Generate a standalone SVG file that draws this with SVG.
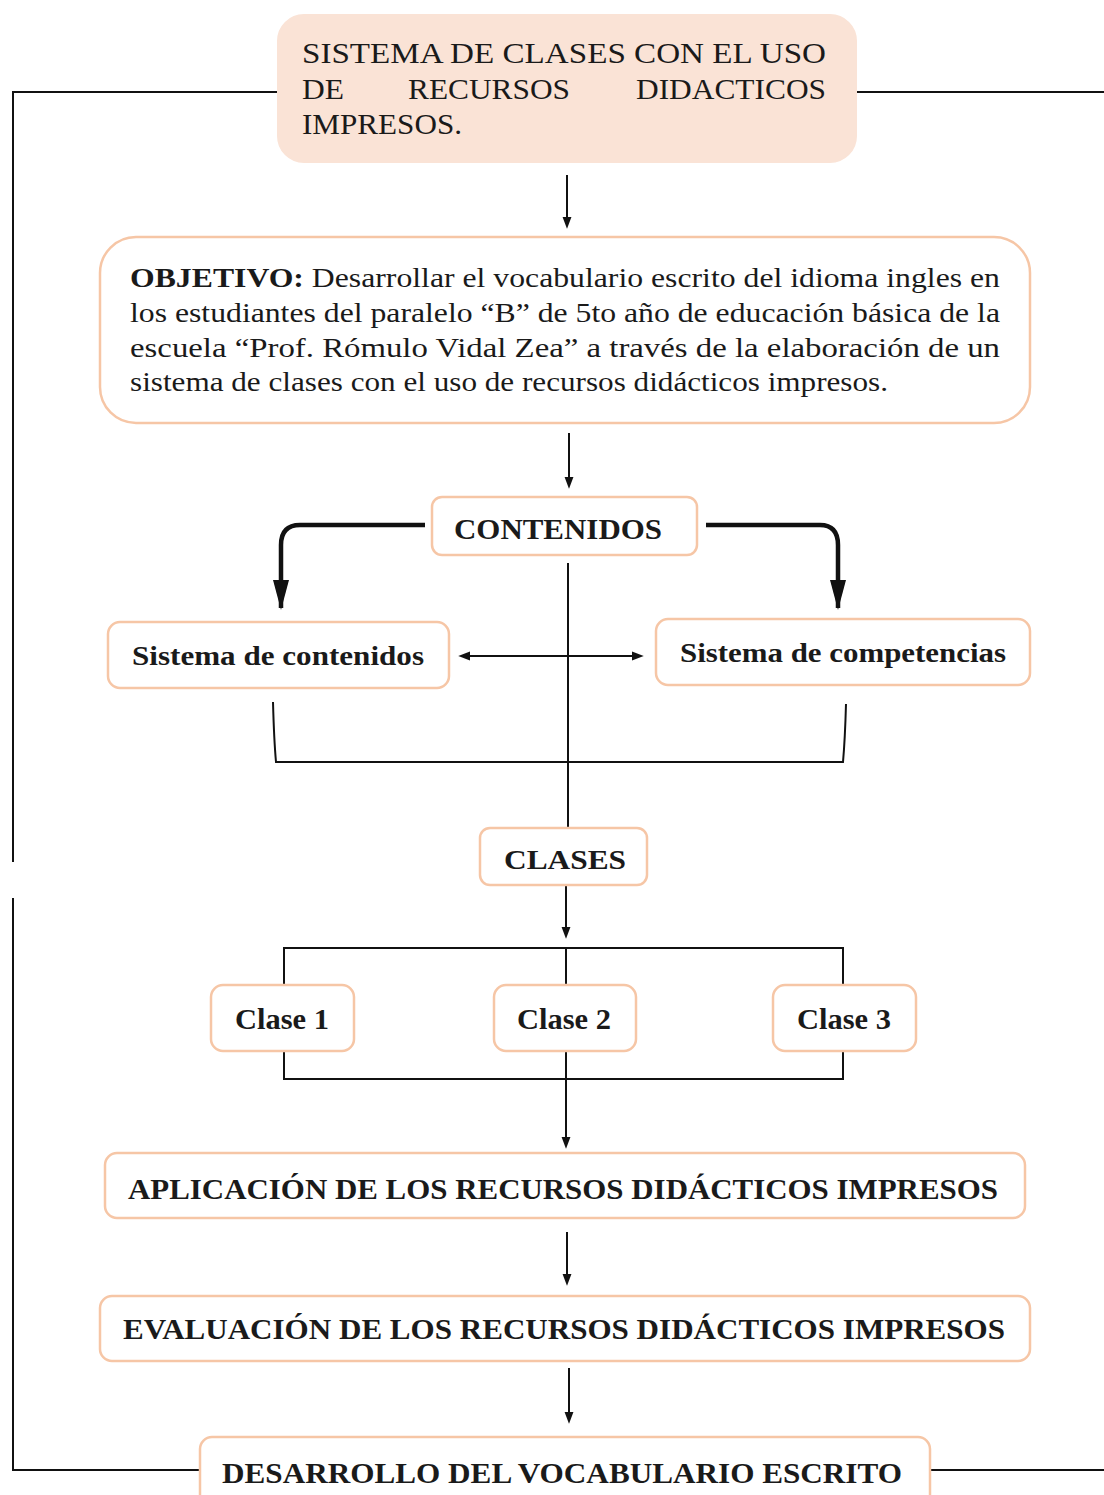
<svg xmlns="http://www.w3.org/2000/svg" width="1104" height="1495" viewBox="0 0 1104 1495">
<style>
.box{fill:#ffffff;stroke:#f6c6a6;stroke-width:2.5}
.top{fill:#fae3d6;stroke:#fae3d6;stroke-width:2}
.t{font-family:"Liberation Serif","Times New Roman",serif;fill:#1a1a1a}
.b{font-weight:bold}
.ln{fill:none;stroke:#111;stroke-width:2}
.thick{fill:none;stroke:#111;stroke-width:4.5}
</style>
<defs>
<marker id="ahd" markerUnits="userSpaceOnUse" markerWidth="12" markerHeight="16" refX="11" refY="6" orient="auto-start-reverse" viewBox="0 0 16 12">
<path d="M0,0 L16,6 L0,12 Z" fill="#111"/>
</marker>
<marker id="aht" markerUnits="userSpaceOnUse" markerWidth="30" markerHeight="20" refX="28" refY="10" orient="auto" viewBox="0 0 30 20">
<path d="M0,2 L30,10 L0,18 Z" fill="#111"/>
</marker>
</defs>

<g id="connectors">
<path class="ln" d="M278,92 H13 V862"/>
<path class="ln" d="M13,898 V1470 H200"/>
<path class="ln" d="M856,92 H1104"/>
<path class="ln" d="M930,1470 H1104"/>
<path class="ln" d="M567,175 V225" marker-end="url(#ahd)"/>
<path class="ln" d="M569,433 V485" marker-end="url(#ahd)"/>
<path class="thick" d="M425,525 H300 Q281,525 281,545 V608" marker-end="url(#aht)"/>
<path class="thick" d="M706,525 H820 Q838,525 838,545 V608" marker-end="url(#aht)"/>
<path class="ln" d="M568,563 V828"/>
<path class="ln" d="M462,656 H640" marker-start="url(#ahd)" marker-end="url(#ahd)"/>
<path class="ln" d="M273,702 Q274,740 276,762 H843 Q845,740 846,704"/>
<path class="ln" d="M566,885 V935" marker-end="url(#ahd)"/>
<path class="ln" d="M284,985 V948 H843 V985"/>
<path class="ln" d="M566,948 V987"/>
<path class="ln" d="M284,1051 V1079 H843 V1051"/>
<path class="ln" d="M566,1051 V1145" marker-end="url(#ahd)"/>
<path class="ln" d="M567,1232 V1282" marker-end="url(#ahd)"/>
<path class="ln" d="M569,1368 V1420" marker-end="url(#ahd)"/>
</g>

<g id="n-sistema">
<rect class="top" x="278" y="15" width="578" height="147" rx="26"/>
<text class="t" font-size="30" x="302" y="63" textLength="524" lengthAdjust="spacingAndGlyphs">SISTEMA DE CLASES CON EL USO</text>
<text class="t" font-size="30" y="99"><tspan x="302" textLength="42" lengthAdjust="spacingAndGlyphs">DE</tspan><tspan x="408" textLength="162" lengthAdjust="spacingAndGlyphs">RECURSOS</tspan><tspan x="636" textLength="190" lengthAdjust="spacingAndGlyphs">DIDACTICOS</tspan></text>
<text class="t" font-size="30" x="302" y="134" textLength="160" lengthAdjust="spacingAndGlyphs">IMPRESOS.</text>
</g>

<g id="n-objetivo">
<rect class="box" x="100" y="237" width="930" height="186" rx="36"/>
<text class="t" font-size="28" x="130" y="287" textLength="870" lengthAdjust="spacingAndGlyphs"><tspan class="b">OBJETIVO:</tspan> Desarrollar el vocabulario escrito del idioma ingles en</text>
<text class="t" font-size="28" x="130" y="322" textLength="870" lengthAdjust="spacingAndGlyphs">los estudiantes del paralelo “B” de 5to año de educación básica de la</text>
<text class="t" font-size="28" x="130" y="357" textLength="870" lengthAdjust="spacingAndGlyphs">escuela “Prof. Rómulo Vidal Zea” a través de la elaboración de un</text>
<text class="t" font-size="28" x="130" y="391" textLength="758" lengthAdjust="spacingAndGlyphs">sistema de clases con el uso de recursos didácticos impresos.</text>
</g>

<g id="n-contenidos">
<rect class="box" x="432" y="497" width="265" height="58" rx="10"/>
<text class="t b" font-size="29" x="558" y="539" text-anchor="middle" textLength="208" lengthAdjust="spacingAndGlyphs">CONTENIDOS</text>
</g>

<g id="n-sis-contenidos">
<rect class="box" x="108" y="622" width="341" height="66" rx="12"/>
<text class="t b" font-size="28" x="278" y="665" text-anchor="middle" textLength="292" lengthAdjust="spacingAndGlyphs">Sistema de contenidos</text>
</g>

<g id="n-sis-competencias">
<rect class="box" x="656" y="619" width="374" height="66" rx="12"/>
<text class="t b" font-size="28" x="843" y="662" text-anchor="middle" textLength="326" lengthAdjust="spacingAndGlyphs">Sistema de competencias</text>
</g>

<g id="n-clases">
<rect class="box" x="480" y="828" width="167" height="57" rx="10"/>
<text class="t b" font-size="28" x="565" y="869" text-anchor="middle" textLength="122" lengthAdjust="spacingAndGlyphs">CLASES</text>
</g>

<g id="n-clase1">
<rect class="box" x="211" y="985" width="143" height="66" rx="12"/>
<text class="t b" font-size="29" x="282" y="1029" text-anchor="middle" textLength="94" lengthAdjust="spacingAndGlyphs">Clase 1</text>
</g>
<g id="n-clase2">
<rect class="box" x="494" y="985" width="142" height="66" rx="12"/>
<text class="t b" font-size="29" x="564" y="1029" text-anchor="middle" textLength="94" lengthAdjust="spacingAndGlyphs">Clase 2</text>
</g>
<g id="n-clase3">
<rect class="box" x="773" y="985" width="143" height="66" rx="12"/>
<text class="t b" font-size="29" x="844" y="1029" text-anchor="middle" textLength="94" lengthAdjust="spacingAndGlyphs">Clase 3</text>
</g>

<g id="n-aplicacion">
<rect class="box" x="105" y="1153" width="920" height="65" rx="12"/>
<text class="t b" font-size="30" x="563" y="1199" text-anchor="middle" textLength="870" lengthAdjust="spacingAndGlyphs">APLICACIÓN DE LOS RECURSOS DIDÁCTICOS IMPRESOS</text>
</g>

<g id="n-evaluacion">
<rect class="box" x="100" y="1296" width="930" height="65" rx="12"/>
<text class="t b" font-size="30" x="564" y="1339" text-anchor="middle" textLength="882" lengthAdjust="spacingAndGlyphs">EVALUACIÓN DE LOS RECURSOS DIDÁCTICOS IMPRESOS</text>
</g>

<g id="n-desarrollo">
<rect class="box" x="200" y="1437" width="730" height="80" rx="12"/>
<text class="t b" font-size="30" x="562" y="1483" text-anchor="middle" textLength="680" lengthAdjust="spacingAndGlyphs">DESARROLLO DEL VOCABULARIO ESCRITO</text>
</g>
</svg>
